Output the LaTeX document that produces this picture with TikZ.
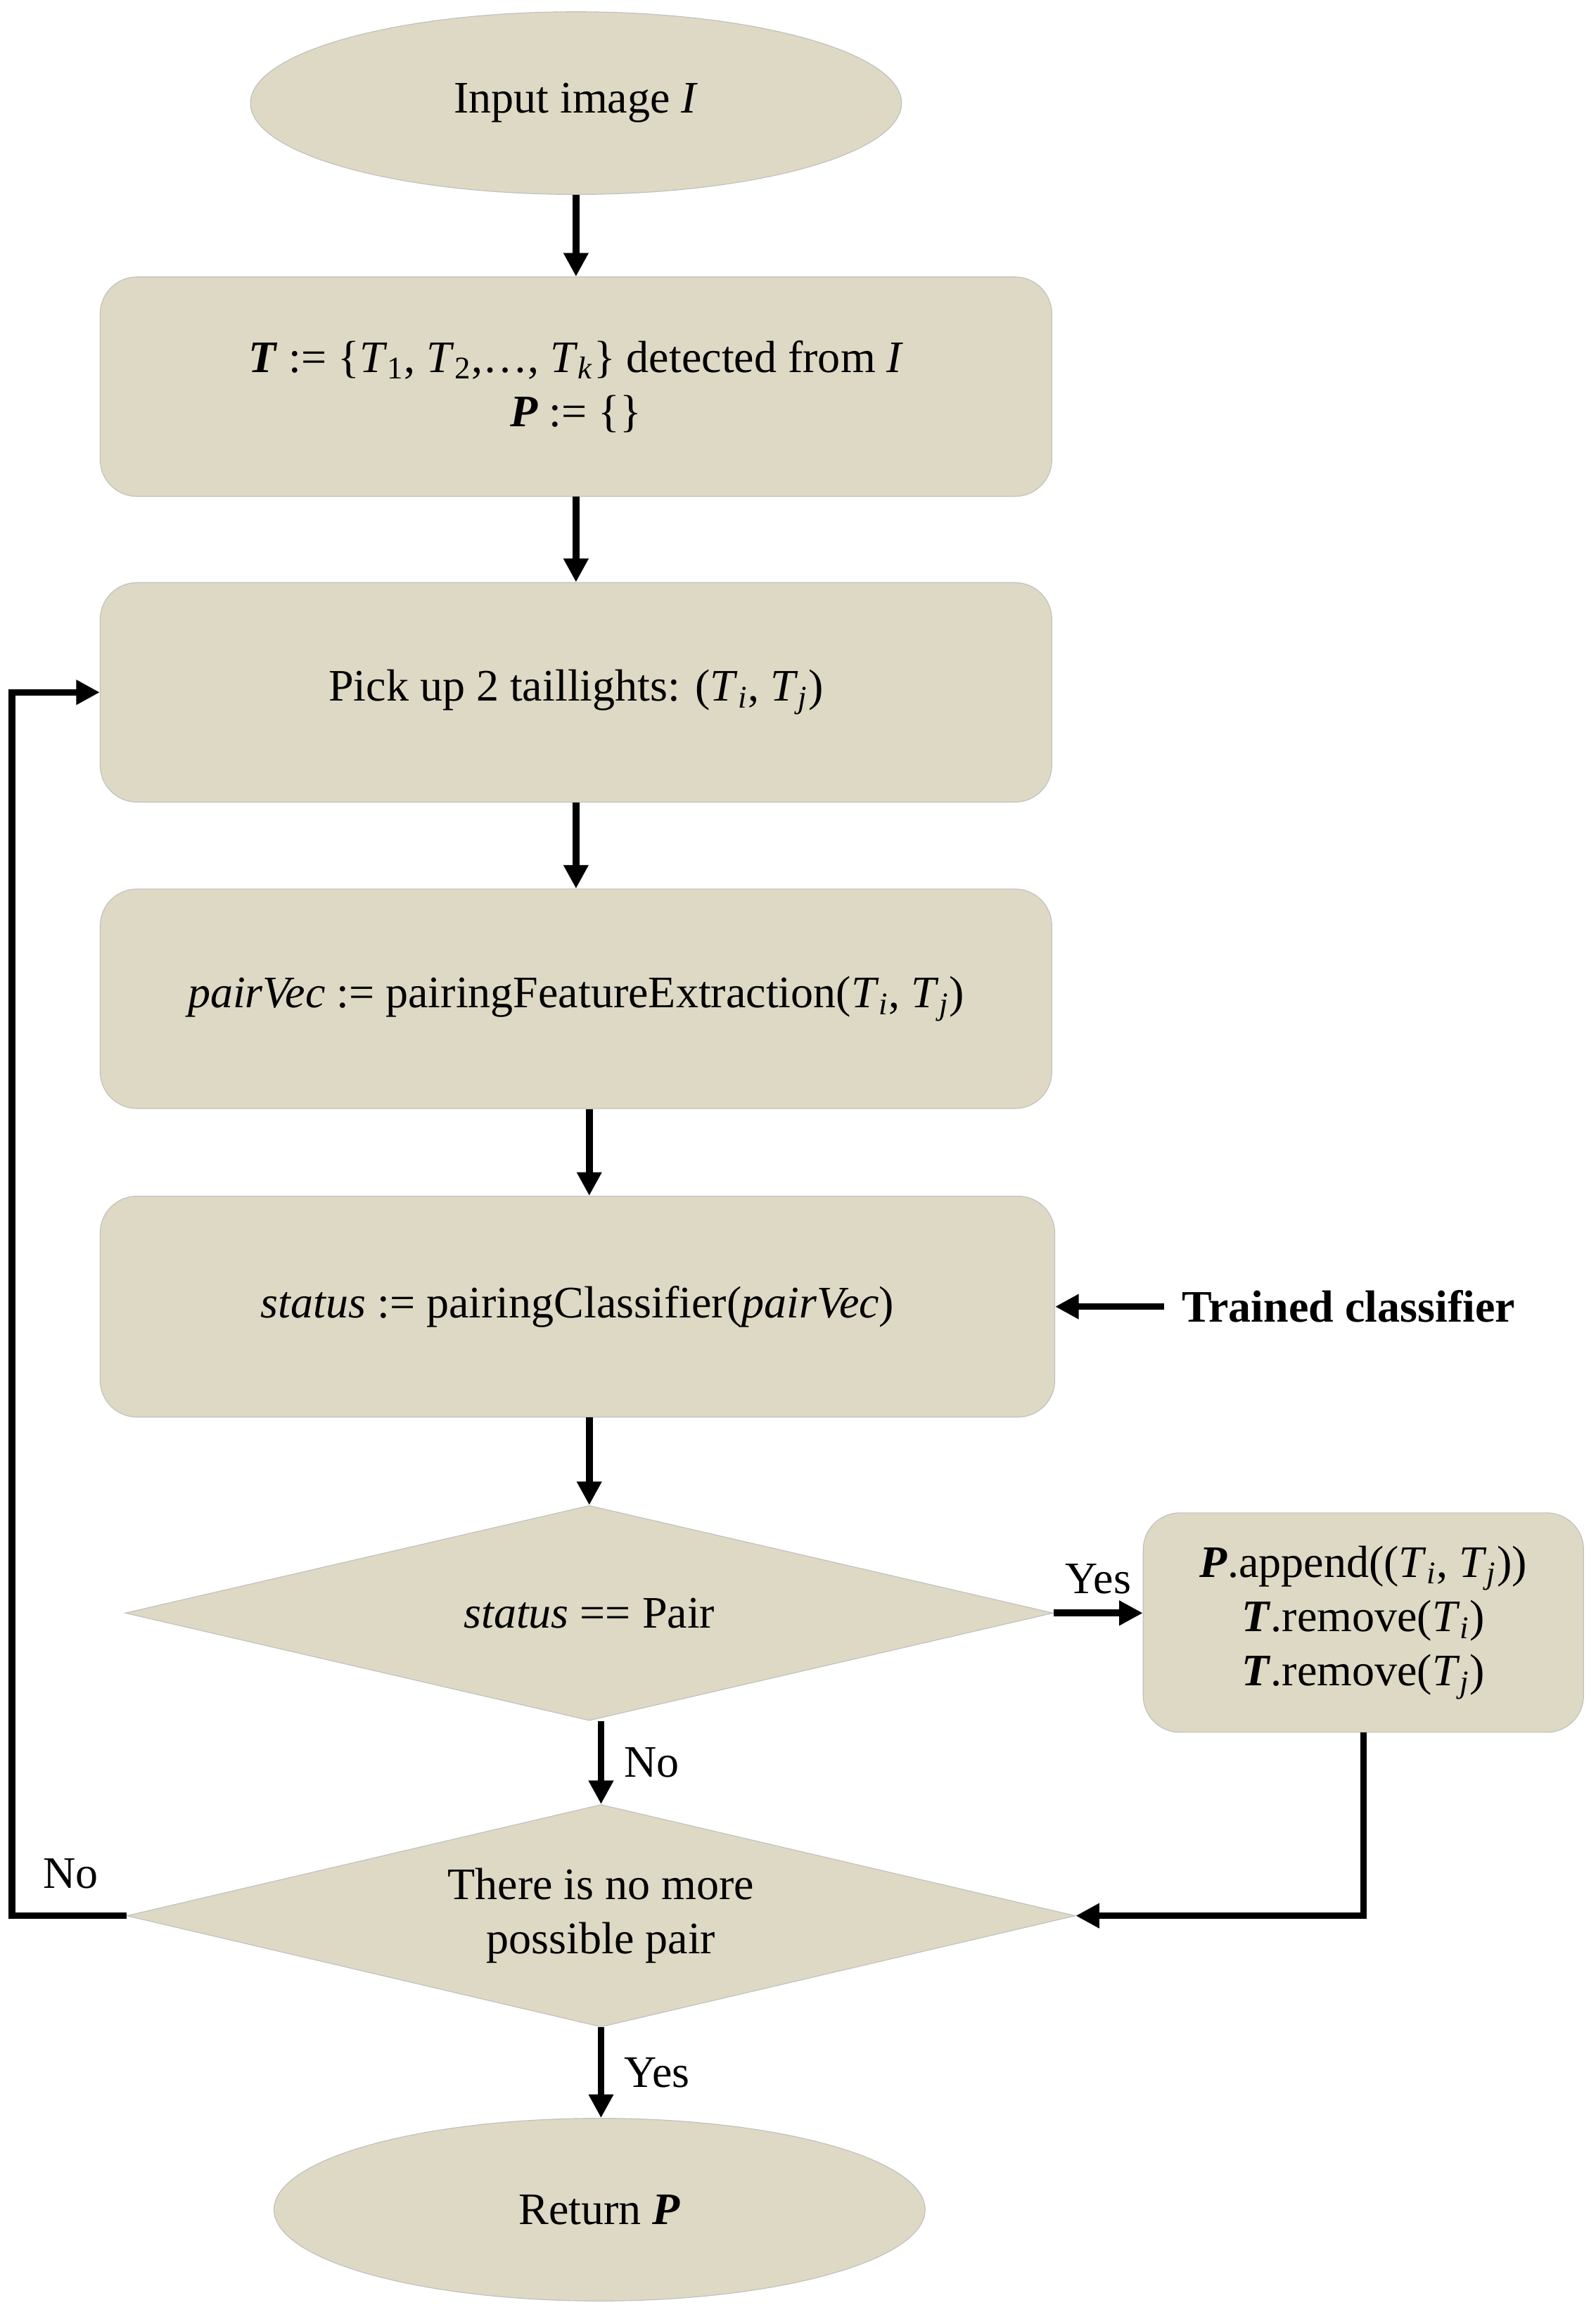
\documentclass[tikz,border=0pt]{standalone}
\usepackage{fontspec}
\setmainfont{Liberation Serif}
\usetikzlibrary{arrows.meta,shapes.geometric}

\definecolor{tanfill}{HTML}{DDD9C4}
\definecolor{tanline}{HTML}{BFBFBF}
\newcommand{\Tsub}[1]{\textit{T}\textsubscript{#1}}
\newcommand{\bT}{\textbf{\textit{T}}}
\newcommand{\bP}{\textbf{\textit{P}}}

\begin{document}
\begin{tikzpicture}[
        font=\fontsize{17.4}{21}\selectfont,
        terminal/.style={ellipse, fill=tanfill, draw=tanline, line width=0.3pt, minimum width=8.84cm, minimum height=2.48cm},
        process/.style={rectangle, rounded corners=0.5cm, fill=tanfill, draw=tanline, line width=0.3pt, minimum width=12.92cm, minimum height=2.98cm, align=center},
        decision/.style={diamond, fill=tanfill, draw=tanline, line width=0.3pt, aspect=4.3, inner sep=0pt, align=center},
        arr/.style={line width=2.6pt, -{Triangle[length=3.2mm,width=3.2mm]}}
    ]
            \useasboundingbox (0,0) rectangle (21.66,-31.39);

            \node[terminal] (start) at (7.82,-1.40) {Input image \textit{I}};
            \node[process] (init) at (7.82,-5.25) {\bT{} := \{\Tsub{1}, \Tsub{2},\ldots, \Tsub{\textit{k}}\} detected from \textit{I}\\ \bP{} := \{\}};
            \node[process] (pick) at (7.82,-9.40) {Pick up 2 taillights: (\Tsub{\textit{i}}, \Tsub{\textit{j}})};
            \node[process] (feat) at (7.82,-13.56) {\textit{pairVec} := pairingFeatureExtraction(\Tsub{\textit{i}}, \Tsub{\textit{j}})};
            \node[process, minimum width=12.96cm, minimum height=3.0cm] (clf) at (7.84,-17.74) {\textit{status} := pairingClassifier(\textit{pairVec})};
            \node[anchor=west, inner sep=0.24cm, font=\fontsize{17.4}{21}\selectfont\bfseries] (train) at (15.8,-17.74) {Trained classifier};
            \node[decision, minimum width=12.6cm, minimum height=2.92cm] (ispair) at (8.0,-21.90) {\textit{status} == Pair};
            \node[process, minimum width=5.98cm, minimum height=2.98cm] (append) at (18.51,-22.03) {\bP.append((\Tsub{\textit{i}}, \Tsub{\textit{j}}))\\ \bT.remove(\Tsub{\textit{i}})\\ \bT.remove(\Tsub{\textit{j}})};
            \node[decision, minimum width=12.88cm, minimum height=3.02cm] (nomore) at (8.16,-26.01) {There is no more\\ possible pair};
            \node[terminal] (stop) at (8.14,-30.0) {Return \bP};

            \coordinate (back) at (0.16,0);

            \draw[arr] (start) -- (init);
            \draw[arr] (init) -- (pick);
            \draw[arr] (pick) -- (feat);
            \draw[arr] (feat.south -| ispair.north) -- (clf.north -| ispair.north);
            \draw[arr] (train.west) -- (clf.east);
            \draw[arr] (clf.south -| ispair.north) -- (ispair.north);
            \draw[arr] (ispair.east) -- (ispair.east -| append.west) node[midway, above=0.1cm] (yes1) {Yes};
            \draw[arr] (ispair.south -| nomore.north) -- (nomore.north) node[midway, right=0.15cm] (no1) {No};
            \draw[arr] (append.south) |- (nomore.east);
            \draw[arr] (nomore.west) -- (nomore.west -| back) |- (pick.west);
            \node (no2) at (0.96,-25.44) {No};
            \draw[arr] (nomore.south) -- (nomore.south |- stop.north) node[midway, right=0.15cm] (yes2) {Yes};

        \end{tikzpicture}
\end{document}
